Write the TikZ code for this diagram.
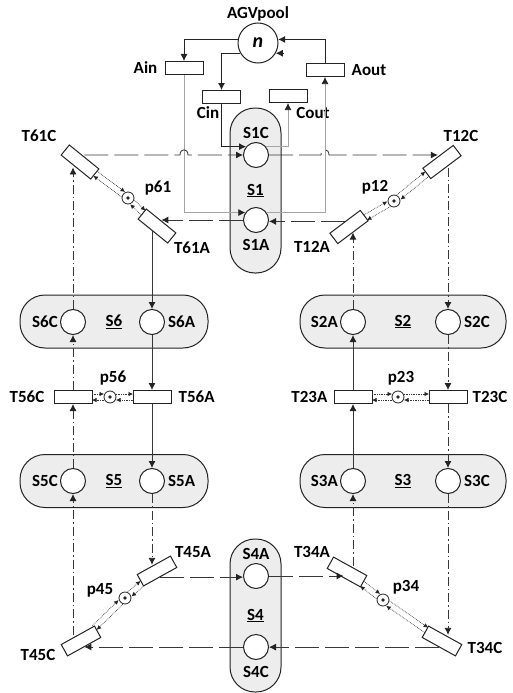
\documentclass[tikz,border=0pt]{standalone}
\usepackage{fontspec}
\setmainfont{Carlito}
\usetikzlibrary{arrows.meta,positioning,calc}
\definecolor{pillgray}{RGB}{237,237,237}
\definecolor{linegray}{RGB}{55,55,55}
\definecolor{palegray}{RGB}{165,165,165}
\definecolor{edgegray}{RGB}{35,35,35}

\begin{document}
\begin{tikzpicture}[x=1pt,y=-1pt,node distance=4pt,
    every node/.style={font=\fontsize{17}{19}\selectfont\bfseries,inner sep=1pt},
    place/.style={circle,draw=edgegray,fill=white,line width=1pt,minimum size=25pt,inner sep=0pt},
    trans/.style={draw=edgegray,fill=white,line width=1pt,minimum width=38pt,minimum height=13pt,inner sep=0pt},
    pill/.style={draw=edgegray,fill=pillgray,line width=1pt,rounded corners=25pt},
    couple/.style={circle,draw=edgegray,fill=white,line width=0.8pt,minimum size=12pt,inner sep=0pt,
      path picture={\fill[edgegray] (path picture bounding box.center) circle (1.8pt);}},
    flow/.style={draw=linegray,line width=0.85pt,-{Latex[length=7pt,width=7pt,color=edgegray]}},
    flowdd/.style={flow,dash pattern=on 9pt off 3pt on 1.5pt off 3pt},
    flowlong/.style={flow,dash pattern=on 24pt off 6pt},
    pool/.style={draw=edgegray,line width=0.85pt,-{Latex[length=7pt,width=7pt,color=edgegray]}},
    paleline/.style={draw=palegray,line width=0.75pt,-{Latex[length=7pt,width=7pt,color=edgegray]}},
    dotarc/.style={draw=linegray,line width=0.7pt,densely dotted,-{Latex[length=4.5pt,width=4.5pt,color=edgegray]}}]
    \useasboundingbox (0,0) rectangle (512,693);

    \node[pill,minimum width=51pt,minimum height=165pt] (S1) at (255.5,190.5) {\underline{S1}};
    \node[pill,minimum width=188pt,minimum height=53pt] (S6) at (114,321.5) {\underline{S6}};
    \node[pill,minimum width=206pt,minimum height=53pt] (S2) at (403,321.5) {\underline{S2}};
    \node[pill,minimum width=188pt,minimum height=53pt] (S5) at (114,481) {\underline{S5}};
    \node[pill,minimum width=206pt,minimum height=53pt] (S3) at (403,481) {\underline{S3}};
    \node[pill,minimum width=51pt,minimum height=153pt] (S4) at (255.5,615.5) {\underline{S4}};

    \node[place,minimum size=40pt,font=\fontsize{20}{22}\selectfont\bfseries\itshape] (n) at (258,43) {n};
    \node[above=0pt of n] (pool) {AGVpool};

    \node[place] (S1C) at (256,155) {};
    \node[place] (S1A) at (256,220) {};
    \node[place] (S6C) at (73,322) {};
    \node[place] (S6A) at (152,322) {};
    \node[place] (S2A) at (353,322) {};
    \node[place] (S2C) at (448,322) {};
    \node[place] (S5C) at (73,481) {};
    \node[place] (S5A) at (152,481) {};
    \node[place] (S3A) at (353,481) {};
    \node[place] (S3C) at (448,481) {};
    \node[place] (S4A) at (256,576) {};
    \node[place] (S4C) at (256,647) {};
    \node[above=2pt of S1C] {S1C};
    \node[below=5pt of S1A] {S1A};
    \node[left=1pt of S6C] {S6C};
    \node[right=2pt of S6A] {S6A};
    \node[left=1pt of S2A] {S2A};
    \node[right=2pt of S2C] {S2C};
    \node[left=1pt of S5C] {S5C};
    \node[right=2pt of S5A] {S5A};
    \node[left=1pt of S3A] {S3A};
    \node[right=2pt of S3C] {S3C};
    \node[above=2pt of S4A] {S4A};
    \node[below=5pt of S4C] {S4C};

    \node[trans] (Ain) at (184,68) {};
    \node[trans] (Aout) at (325,70) {};
    \node[trans] (Cin) at (221.5,97) {};
    \node[trans] (Cout) at (288,96) {};
    \node[left=6pt of Ain] {Ain};
    \node[right=6pt of Aout] {Aout};
    \node at ($(Cin)+(-13.5,16)$) {Cin};
    \node at ($(Cout)+(25,17)$) {Cout};

    \node[trans,rotate=-39] (T61C) at (80,162) {};
    \node[trans,rotate=-39] (T61A) at (157,226) {};
    \node[couple] (p61) at (128,198) {};
    \node[trans,rotate=37] (T12C) at (442,162) {};
    \node[trans,rotate=37] (T12A) at (349,227) {};
    \node[couple] (p12) at (394,201) {};
    \node[trans] (T56C) at (73,397) {};
    \node[trans] (T56A) at (152,397) {};
    \node[couple] (p56) at (110,397) {};
    \node[trans] (T23A) at (353,397) {};
    \node[trans] (T23C) at (448,397) {};
    \node[couple] (p23) at (398,397) {};
    \node[trans,rotate=29] (T45A) at (157,571) {};
    \node[trans,rotate=29] (T45C) at (81,641) {};
    \node[couple] (p45) at (125,598) {};
    \node[trans,rotate=-29] (T34A) at (347,572) {};
    \node[trans,rotate=-29] (T34C) at (442,641) {};
    \node[couple] (p34) at (383,600) {};

    \node at ($(T61C)+(-41,-26)$) {T61C};
    \node at ($(T61A)+(35,22)$) {T61A};
    \node at ($(T12C)+(19,-26)$) {T12C};
    \node at ($(T12A)+(-37,20)$) {T12A};
    \node[left=8pt of T56C] {T56C};
    \node[right=6pt of T56A] {T56A};
    \node[left=5pt of T23A] {T23A};
    \node[right=4pt of T23C] {T23C};
    \node at ($(T45A)+(36,-19)$) {T45A};
    \node at ($(T45C)+(-43,14)$) {T45C};
    \node at ($(T34A)+(-35,-20)$) {T34A};
    \node at ($(T34C)+(43,7)$) {T34C};
    \node at ($(p61)+(30,-10)$) {p61};
    \node at ($(p12)+(-19,-14)$) {p12};
    \node at ($(p56)+(3,-19)$) {p56};
    \node at ($(p23)+(3,-19)$) {p23};
    \node at ($(p45)+(-25,-8)$) {p45};
    \node at ($(p34)+(23,-13)$) {p34};

    \coordinate (CoutEnd) at ($(n.-30)+(8,0)$);
    \draw[pool] (n.170) -| (Ain.north);
    \draw[pool] (n.210) -| (Cin.north);
    \draw[pool] (Aout.north) |- (n.10);
    \draw[pool] (CoutEnd) -- (n.-30);
    \draw[paleline] (Ain.south) |- (S1A.145);
    \draw[paleline] (S1A.35) -| (Aout.south);
    \draw[pool] (Cin.south) |- (S1C.140);
    \draw[paleline] (S1C.40) -| (Cout.south);

    \draw[flowlong] (T61C.north |- S1C) -- ($(Ain.south |- S1C)+(-4,0)$)
      .. controls +(0,-7) and +(0,-7) .. ($(Ain.south |- S1C)+(4,0)$) -- (S1C);
    \draw[flowlong] (S1C) -- ($(Aout.south |- S1C)+(-4,0)$)
      .. controls +(0,-7) and +(0,-7) .. ($(Aout.south |- S1C)+(4,0)$) -- (S1C -| T12C.north);
    \draw[flowdd] (S2C |- T12C.south) -- (S2C);
    \draw[flowdd] (S2C) -- (T23C);
    \draw[flowdd] (T23C) -- (S3C);
    \draw[flowdd] (S3C) -- (S3C |- T34C.north);
    \draw[flowlong] (T34C.south) -- (T34C.south -| S4C.east);
    \draw[flowlong] (S4C) -- (S4C -| T45C.south);
    \draw[flowdd] (S5C |- T45C.north) -- (S5C);
    \draw[flowdd] (S5C) -- (T56C);
    \draw[flowdd] (T56C) -- (S6C);
    \draw[flowdd] (S6C) -- (S6C |- T61C.south);

    \draw[flowlong] (S1A) -- (S1A -| T61A.north);
    \draw[flow] (S6A |- T61A.south) -- (S6A);
    \draw[flow] (S6A) -- (T56A);
    \draw[flow] (T56A) -- (S5A);
    \draw[flowdd] (S5A) -- (S5A |- T45A.north);
    \draw[flowlong] (T45A.south) -- (T45A.south -| S4A.west);
    \draw[flowlong] (S4A) -- (S4A -| T34A.south);
    \draw[flowdd] (S3A |- T34A.north) -- (S3A);
    \draw[flow] (S3A) -- (T23A);
    \draw[flow] (T23A) -- (S2A);
    \draw[flowdd] (S2A) -- (S2A |- T12A.south);
    \draw[flowlong] (T12A.north) -- (T12A.north -| S1A.east);

    \draw[dotarc,shorten <=19pt,shorten >=6pt] ($(T61C)!3pt!90:(p61)$) -- ($(p61)!3pt!-90:(T61C)$);
    \draw[dotarc,shorten <=6pt,shorten >=19pt] ($(p61)!3pt!90:(T61C)$) -- ($(T61C)!3pt!-90:(p61)$);
    \draw[dotarc,shorten <=19pt,shorten >=6pt] ($(T61A)!3pt!90:(p61)$) -- ($(p61)!3pt!-90:(T61A)$);
    \draw[dotarc,shorten <=6pt,shorten >=19pt] ($(p61)!3pt!90:(T61A)$) -- ($(T61A)!3pt!-90:(p61)$);
    \draw[dotarc,shorten <=19pt,shorten >=6pt] ($(T12C)!3pt!90:(p12)$) -- ($(p12)!3pt!-90:(T12C)$);
    \draw[dotarc,shorten <=6pt,shorten >=19pt] ($(p12)!3pt!90:(T12C)$) -- ($(T12C)!3pt!-90:(p12)$);
    \draw[dotarc,shorten <=19pt,shorten >=6pt] ($(T12A)!3pt!90:(p12)$) -- ($(p12)!3pt!-90:(T12A)$);
    \draw[dotarc,shorten <=6pt,shorten >=19pt] ($(p12)!3pt!90:(T12A)$) -- ($(T12A)!3pt!-90:(p12)$);
    \draw[dotarc,shorten <=19pt,shorten >=6pt] ($(T56C)!3pt!90:(p56)$) -- ($(p56)!3pt!-90:(T56C)$);
    \draw[dotarc,shorten <=6pt,shorten >=19pt] ($(p56)!3pt!90:(T56C)$) -- ($(T56C)!3pt!-90:(p56)$);
    \draw[dotarc,shorten <=19pt,shorten >=6pt] ($(T56A)!3pt!90:(p56)$) -- ($(p56)!3pt!-90:(T56A)$);
    \draw[dotarc,shorten <=6pt,shorten >=19pt] ($(p56)!3pt!90:(T56A)$) -- ($(T56A)!3pt!-90:(p56)$);
    \draw[dotarc,shorten <=19pt,shorten >=6pt] ($(T23A)!3pt!90:(p23)$) -- ($(p23)!3pt!-90:(T23A)$);
    \draw[dotarc,shorten <=6pt,shorten >=19pt] ($(p23)!3pt!90:(T23A)$) -- ($(T23A)!3pt!-90:(p23)$);
    \draw[dotarc,shorten <=19pt,shorten >=6pt] ($(T23C)!3pt!90:(p23)$) -- ($(p23)!3pt!-90:(T23C)$);
    \draw[dotarc,shorten <=6pt,shorten >=19pt] ($(p23)!3pt!90:(T23C)$) -- ($(T23C)!3pt!-90:(p23)$);
    \draw[dotarc,shorten <=19pt,shorten >=6pt] ($(T45C)!3pt!90:(p45)$) -- ($(p45)!3pt!-90:(T45C)$);
    \draw[dotarc,shorten <=6pt,shorten >=19pt] ($(p45)!3pt!90:(T45C)$) -- ($(T45C)!3pt!-90:(p45)$);
    \draw[dotarc,shorten <=19pt,shorten >=6pt] ($(T45A)!3pt!90:(p45)$) -- ($(p45)!3pt!-90:(T45A)$);
    \draw[dotarc,shorten <=6pt,shorten >=19pt] ($(p45)!3pt!90:(T45A)$) -- ($(T45A)!3pt!-90:(p45)$);
    \draw[dotarc,shorten <=19pt,shorten >=6pt] ($(T34A)!3pt!90:(p34)$) -- ($(p34)!3pt!-90:(T34A)$);
    \draw[dotarc,shorten <=6pt,shorten >=19pt] ($(p34)!3pt!90:(T34A)$) -- ($(T34A)!3pt!-90:(p34)$);
    \draw[dotarc,shorten <=19pt,shorten >=6pt] ($(T34C)!3pt!90:(p34)$) -- ($(p34)!3pt!-90:(T34C)$);
    \draw[dotarc,shorten <=6pt,shorten >=19pt] ($(p34)!3pt!90:(T34C)$) -- ($(T34C)!3pt!-90:(p34)$);
  \end{tikzpicture}
\end{document}
